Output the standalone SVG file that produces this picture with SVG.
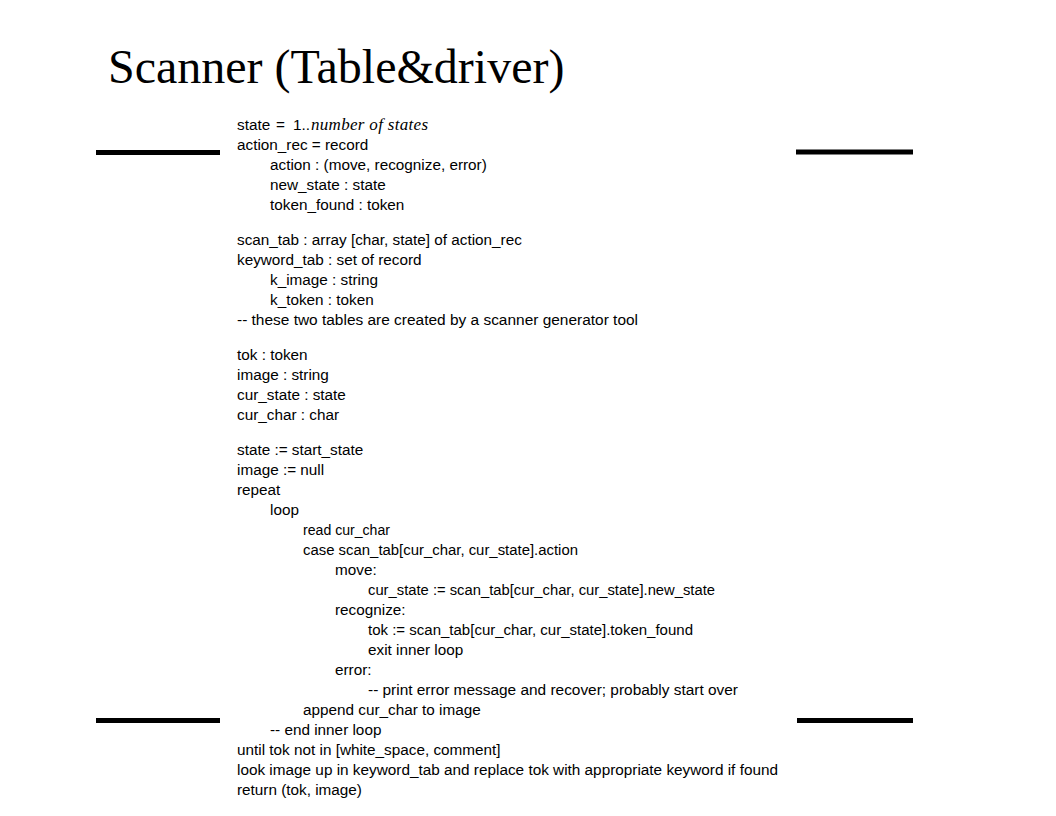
<svg xmlns="http://www.w3.org/2000/svg" width="1056" height="816" viewBox="0 0 1056 816">
<style>
.title{font-family:"Liberation Serif","Times New Roman",serif;font-size:48px;fill:#000}
.c{font-family:"Liberation Sans",Arial,sans-serif;font-size:15.3px;fill:#000}
.m{font-family:"Liberation Serif","Times New Roman",serif;font-style:italic;font-size:17px}
.rule{fill:#000}
</style>
<rect width="1056" height="816" fill="#fff"/>
<g id="title"><text class="title" x="108" y="83">Scanner (Table&amp;driver)</text></g>
<g id="rules">
<rect class="rule" x="96" y="150" width="124" height="5"/>
<rect class="rule" x="796" y="149.5" width="117" height="5"/>
<rect class="rule" x="96" y="718" width="124" height="5"/>
<rect class="rule" x="797" y="718" width="116" height="5"/>
</g>
<g id="code" class="c">
<text x="237" y="130">state <tspan x="276">=</tspan> <tspan x="293">1..</tspan><tspan class="m" x="311" textLength="117" lengthAdjust="spacing">number of states</tspan></text>
<text x="237" y="150">action_rec = record</text>
<text x="270" y="170">action : (move, recognize, error)</text>
<text x="270" y="190">new_state : state</text>
<text x="270" y="210">token_found : token</text>
<text x="237" y="245">scan_tab : array [char, state] of action_rec</text>
<text x="237" y="265">keyword_tab : set of record</text>
<text x="270" y="285">k_image : string</text>
<text x="270" y="305">k_token : token</text>
<text x="237" y="325" textLength="401" lengthAdjust="spacingAndGlyphs">-- these two tables are created by a scanner generator tool</text>
<text x="237" y="360">tok : token</text>
<text x="237" y="380">image : string</text>
<text x="237" y="400">cur_state : state</text>
<text x="237" y="420">cur_char : char</text>
<text x="237" y="455">state := start_state</text>
<text x="237" y="475">image := null</text>
<text x="237" y="495">repeat</text>
<text x="270" y="515">loop</text>
<text x="303" y="535" textLength="87" lengthAdjust="spacingAndGlyphs">read cur_char</text>
<text x="303" y="555" textLength="275" lengthAdjust="spacingAndGlyphs">case scan_tab[cur_char, cur_state].action</text>
<text x="335" y="575">move:</text>
<text x="368" y="595" textLength="347" lengthAdjust="spacingAndGlyphs">cur_state := scan_tab[cur_char, cur_state].new_state</text>
<text x="335" y="615">recognize:</text>
<text x="368" y="635" textLength="325" lengthAdjust="spacingAndGlyphs">tok := scan_tab[cur_char, cur_state].token_found</text>
<text x="368" y="655">exit inner loop</text>
<text x="335" y="675">error:</text>
<text x="368" y="695" textLength="370" lengthAdjust="spacingAndGlyphs">-- print error message and recover; probably start over</text>
<text x="303" y="715">append cur_char to image</text>
<text x="270" y="735">-- end inner loop</text>
<text x="237" y="755">until tok not in [white_space, comment]</text>
<text x="237" y="775" textLength="541" lengthAdjust="spacingAndGlyphs">look image up in keyword_tab and replace tok with appropriate keyword if found</text>
<text x="237" y="795">return (tok, image)</text>
</g>
</svg>
